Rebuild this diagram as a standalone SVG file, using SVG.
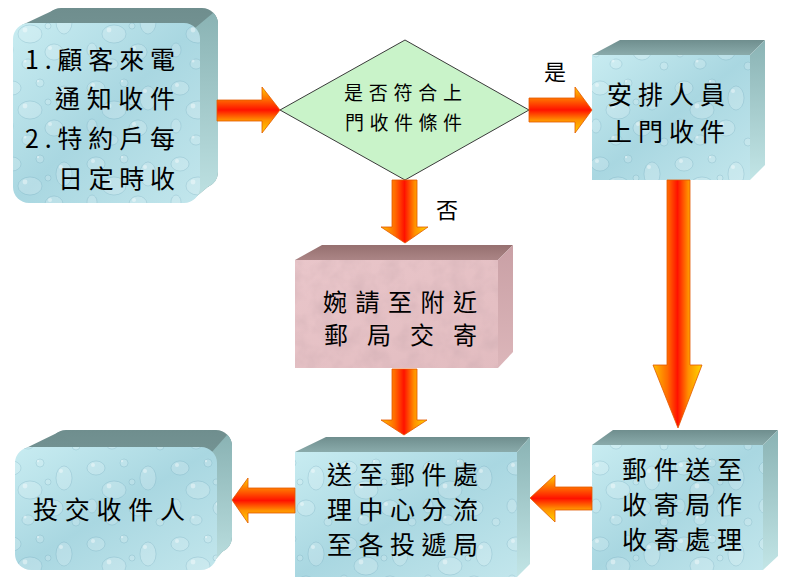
<svg xmlns="http://www.w3.org/2000/svg" width="799" height="581" viewBox="0 0 799 581">
<style>
.t{font-family:"Noto Sans CJK TC","Noto Sans CJK SC",sans-serif;fill:#000;}
.b{font-size:25px;}
.p{font-size:24px;}
.m{font-size:19px;}
.l{font-size:22px;}
.arr{stroke:#e25800;stroke-width:0.8;}
.top{fill:url(#gTop);}
.side{fill:url(#gSide);}
.front{fill:url(#gFront);}
.drops{fill:url(#drops);}
</style>
<defs>
<linearGradient id="gFront" x1="0" y1="0" x2="1" y2="1">
<stop offset="0" stop-color="#c8ecf1"/><stop offset="0.5" stop-color="#a9d7e1"/><stop offset="1" stop-color="#c2e6ec"/>
</linearGradient>
<linearGradient id="gTop" x1="0" y1="0" x2="0" y2="1">
<stop offset="0" stop-color="#6f8e8e"/><stop offset="1" stop-color="#8aabab"/>
</linearGradient>
<linearGradient id="gSide" x1="0" y1="0" x2="0" y2="1">
<stop offset="0" stop-color="#8ab3b4"/><stop offset="1" stop-color="#c2e5e6"/>
</linearGradient>
<linearGradient id="pFront" x1="0" y1="0" x2="1" y2="1">
<stop offset="0" stop-color="#e9c6ca"/><stop offset="1" stop-color="#e2bcc0"/>
</linearGradient>
<linearGradient id="pTop" x1="0" y1="0" x2="0" y2="1">
<stop offset="0" stop-color="#96706f"/><stop offset="1" stop-color="#ab8586"/>
</linearGradient>
<linearGradient id="pSide" x1="0" y1="0" x2="0" y2="1">
<stop offset="0" stop-color="#c9a0a5"/><stop offset="1" stop-color="#dcb6ba"/>
</linearGradient>
<linearGradient id="gH" x1="0" y1="0" x2="0" y2="1">
<stop offset="0" stop-color="#ffd000"/><stop offset="0.3" stop-color="#ff6000"/><stop offset="0.5" stop-color="#ff1200"/><stop offset="0.72" stop-color="#ff9000"/><stop offset="1" stop-color="#ffd200"/>
</linearGradient>
<linearGradient id="gV" x1="0" y1="0" x2="1" y2="0">
<stop offset="0" stop-color="#ffc000"/><stop offset="0.3" stop-color="#ff6a00"/><stop offset="0.5" stop-color="#ff1200"/><stop offset="0.72" stop-color="#ff9000"/><stop offset="1" stop-color="#ffd800"/>
</linearGradient>
<pattern id="drops" width="84" height="76" patternUnits="userSpaceOnUse">
<g fill="#ffffff" fill-opacity="0.16" stroke="#4a8ea3" stroke-opacity="0.2" stroke-width="1">
<ellipse cx="12" cy="12" rx="9" ry="7"/>
<ellipse cx="40" cy="7" rx="4" ry="4"/>
<ellipse cx="64" cy="22" rx="8" ry="12"/>
<ellipse cx="30" cy="34" rx="12" ry="9"/>
<ellipse cx="8" cy="50" rx="5" ry="7"/>
<ellipse cx="54" cy="52" rx="9" ry="8"/>
<ellipse cx="28" cy="64" rx="6" ry="5"/>
<ellipse cx="76" cy="66" rx="4" ry="4"/>
<ellipse cx="48" cy="26" rx="3" ry="3"/>
</g>
<g fill="#ffffff" fill-opacity="0.4">
<circle cx="9" cy="9" r="2"/><circle cx="38" cy="5" r="1.2"/><circle cx="61" cy="15" r="2"/><circle cx="25" cy="30" r="2.4"/><circle cx="50" cy="48" r="2"/><circle cx="25" cy="61" r="1.5"/>
</g>
</pattern>
<filter id="mottle" x="0" y="0" width="1" height="1">
<feTurbulence type="fractalNoise" baseFrequency="0.06" numOctaves="3" seed="4"/>
<feColorMatrix type="matrix" values="0 0 0 0 0.62  0 0 0 0 0.42  0 0 0 0 0.45  0.9 0 0 0 -0.32"/>
<feComposite in2="SourceGraphic" operator="in"/>
</filter>
<clipPath id="c1">
<rect x="45" y="8" width="173" height="180" rx="16"/>
<polygon points="22,25 54,10 209,186 191,201"/>
</clipPath>
<clipPath id="c7">
<rect x="50" y="430" width="182" height="123" rx="16"/>
<polygon points="24,449 59,432 223,551 208,568"/>
</clipPath>
</defs>
<rect width="799" height="581" fill="#ffffff"/>

<g id="n1">
<rect class="top" x="45" y="8" width="173" height="180" rx="16"/>
<polygon class="top" points="22,25 54,10 209,186 191,201"/>
<polygon class="side" points="195,28 213,13 232,13 232,215 190,215" clip-path="url(#c1)"/>
<rect class="front" x="13" y="23" width="187" height="180" rx="16"/>
<rect class="drops" x="13" y="23" width="187" height="180" rx="16"/>
<text class="t b" x="25" y="69" textLength="150" lengthAdjust="spacing">1.顧客來電</text>
<text class="t b" x="55" y="108" textLength="120" lengthAdjust="spacing">通知收件</text>
<text class="t b" x="25" y="148" textLength="150" lengthAdjust="spacing">2.特約戶每</text>
<text class="t b" x="58" y="188" textLength="117" lengthAdjust="spacing">日定時收</text>
</g>

<g id="n2">
<polygon points="280,110 405,40 529,110 405,180" fill="#c9f3c9" stroke="#3a3a3a" stroke-width="1"/>
<text class="t m" x="344" y="100" textLength="118" lengthAdjust="spacing">是否符合上</text>
<text class="t m" x="345" y="130" textLength="117" lengthAdjust="spacing">門收件條件</text>
</g>

<g id="n3">
<polygon class="top" points="592,55 620,40 765,40 750,55"/>
<polygon class="side" points="750,55 765,40 765,165 750,180"/>
<rect class="front" x="592" y="55" width="158" height="125"/>
<rect class="drops" x="592" y="55" width="158" height="125"/>
<text class="t b" x="607" y="104" textLength="118" lengthAdjust="spacing">安排人員</text>
<text class="t b" x="607" y="141" textLength="118" lengthAdjust="spacing">上門收件</text>
</g>

<g id="n4">
<polygon points="295,260 322,245 513,245 498,260" fill="url(#pTop)"/>
<polygon points="498,260 513,245 513,352 498,368" fill="url(#pSide)"/>
<rect x="295" y="260" width="203" height="108" fill="url(#pFront)"/>
<rect x="295" y="260" width="203" height="108" fill="#000" filter="url(#mottle)"/>
<text class="t p" x="323" y="311" textLength="154" lengthAdjust="spacing">婉請至附近</text>
<text class="t p" x="324" y="344" textLength="153" lengthAdjust="spacing">郵 局 交 寄</text>
</g>

<g id="n5">
<polygon class="top" points="295,452 326,437 530,437 517,452"/>
<polygon class="side" points="517,452 530,437 530,564 517,577"/>
<rect class="front" x="295" y="452" width="222" height="125"/>
<rect class="drops" x="295" y="452" width="222" height="125"/>
<text class="t b" x="327" y="484" textLength="151" lengthAdjust="spacing">送至郵件處</text>
<text class="t b" x="327" y="519" textLength="151" lengthAdjust="spacing">理中心分流</text>
<text class="t b" x="327" y="554" textLength="151" lengthAdjust="spacing">至各投遞局</text>
</g>

<g id="n6">
<polygon class="top" points="592,445 613,430 778,430 763,445"/>
<polygon class="side" points="763,445 778,430 778,556 763,570"/>
<rect class="front" x="592" y="445" width="171" height="125"/>
<rect class="drops" x="592" y="445" width="171" height="125"/>
<text class="t b" x="622" y="479" textLength="120" lengthAdjust="spacing">郵件送至</text>
<text class="t b" x="622" y="514" textLength="120" lengthAdjust="spacing">收寄局作</text>
<text class="t b" x="622" y="549" textLength="120" lengthAdjust="spacing">收寄處理</text>
</g>

<g id="n7">
<rect class="top" x="50" y="430" width="182" height="123" rx="16"/>
<polygon class="top" points="24,449 59,432 223,551 208,568"/>
<polygon class="side" points="212,452 227,435 240,435 240,585 205,585" clip-path="url(#c7)"/>
<rect class="front" x="15" y="447" width="202" height="123" rx="16"/>
<rect class="drops" x="15" y="447" width="202" height="123" rx="16"/>
<text class="t b" x="33" y="519" textLength="152" lengthAdjust="spacing">投交收件人</text>
</g>

<g id="connectors">
<path class="arr" fill="url(#gH)" d="M217,100 L262,100 L262,87 L280,110 L262,133 L262,121 L217,121 Z"/>
<path class="arr" fill="url(#gH)" d="M529,98 L575,98 L575,87 L592,110 L575,133 L575,122 L529,122 Z"/>
<path class="arr" fill="url(#gV)" d="M392,180 L417,180 L417,227 L428,227 L405,243 L381,227 L392,227 Z"/>
<path class="arr" fill="url(#gV)" d="M392,369 L417,369 L417,420 L427,420 L404,435 L381,420 L392,420 Z"/>
<path class="arr" fill="url(#gV)" d="M667,180 L690,180 L690,365 L702,365 L678,428 L653,365 L667,365 Z"/>
<path class="arr" fill="url(#gH)" d="M592,487 L555,487 L555,475 L530,498 L555,522 L555,510 L592,510 Z"/>
<path class="arr" fill="url(#gH)" d="M295,488 L248,488 L248,478 L232,500 L248,523 L248,513 L295,513 Z"/>
<text class="t l" x="555" y="80" text-anchor="middle">是</text>
<text class="t l" x="447" y="218" text-anchor="middle">否</text>
</g>
</svg>
